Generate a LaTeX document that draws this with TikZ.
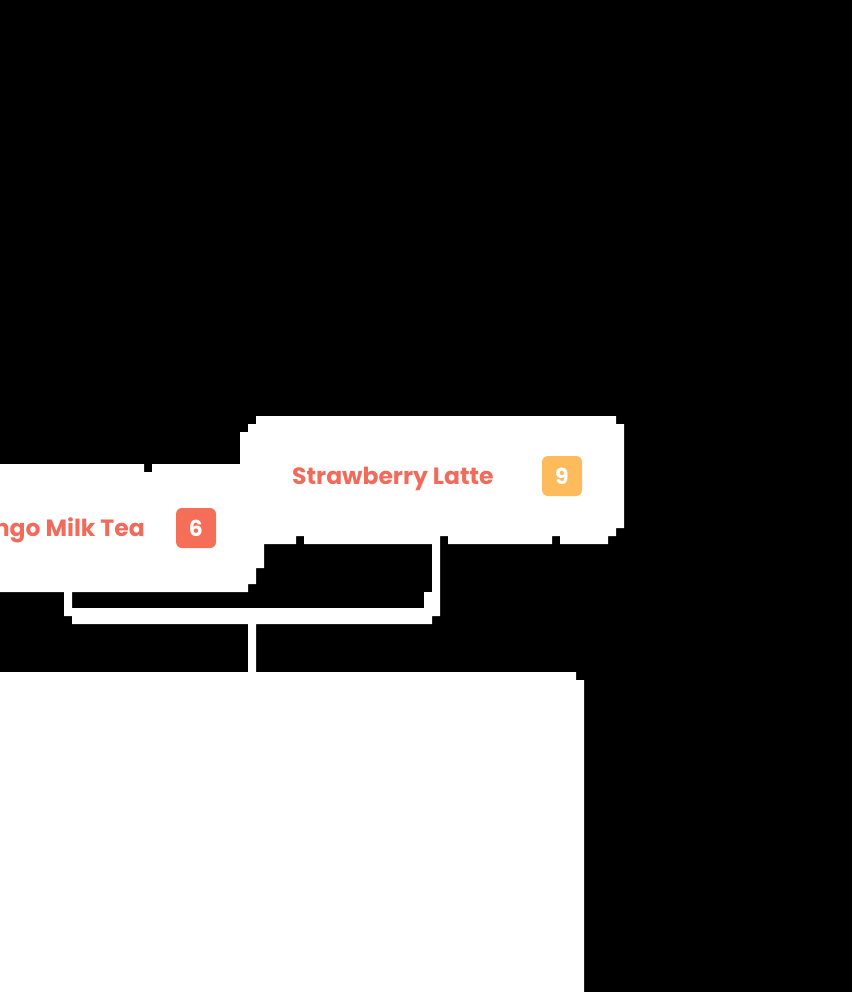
\documentclass[tikz,border=0pt]{standalone}
\usepackage{fontspec}
\setmainfont{Poppins}
\definecolor{coral}{HTML}{F26A5A}
\definecolor{badgered}{HTML}{F46E58}
\definecolor{badgeorange}{HTML}{FDBB5C}
\tikzset{
  whiteshape/.style={fill=white, draw=none},
  itemtext/.style={text=coral, font=\bfseries\fontsize{23.5}{27}\selectfont, inner sep=0pt},
  badgebox/.style={rounded corners=6pt, minimum width=40pt, minimum height=40pt, inner sep=0pt,
     text=white, font=\bfseries\fontsize{22}{25}\selectfont},
}
\begin{document}
\begin{tikzpicture}[x=1pt,y=-1pt]
\fill[black] (0,0) rectangle (852,992);
\useasboundingbox (0,0) rectangle (852,992);
\clip (0,0) rectangle (852,992);
% strawberry box
\fill[whiteshape] (256,416) -- (616,416) -- (616,424) -- (624,424) -- (624,528) -- (616,528)
  -- (616,536) -- (608,536) -- (608,544) -- (560,544) -- (560,536) -- (552,536) -- (552,544)
  -- (448,544) -- (448,536) -- (440,536) -- (440,544) -- (304,544) -- (304,536) -- (296,536)
  -- (296,544) -- (240,544) -- (240,432) -- (248,432) -- (248,424) -- (256,424) -- cycle;
% mango box
\fill[whiteshape] (-10,464) -- (144,464) -- (144,472) -- (152,472) -- (152,464) -- (264,464)
  -- (264,568) -- (256,568) -- (256,584) -- (248,584) -- (248,592) -- (-10,592) -- cycle;
% bracket connector
\fill[whiteshape] (64,592) -- (72,592) -- (72,608) -- (424,608) -- (424,592) -- (432,592)
  -- (432,544) -- (440,544) -- (440,616) -- (432,616) -- (432,624) -- (256,624) -- (256,672)
  -- (248,672) -- (248,624) -- (72,624) -- (72,616) -- (64,616) -- cycle;
% bottom box
\fill[whiteshape] (-10,672) -- (576,672) -- (576,680) -- (584,680) -- (584,1002) -- (-10,1002) -- cycle;
% texts
\node[itemtext, anchor=base west] (straw) at (292,484) {Strawberry Latte};
\node[itemtext, anchor=base east] (mango) at (145,536) {Mango Milk Tea};
\node[badgebox, fill=badgeorange] (b9) at (562,476) {9};
\node[badgebox, fill=badgered] (b6) at (196,528) {6};
\end{tikzpicture}
\end{document}
